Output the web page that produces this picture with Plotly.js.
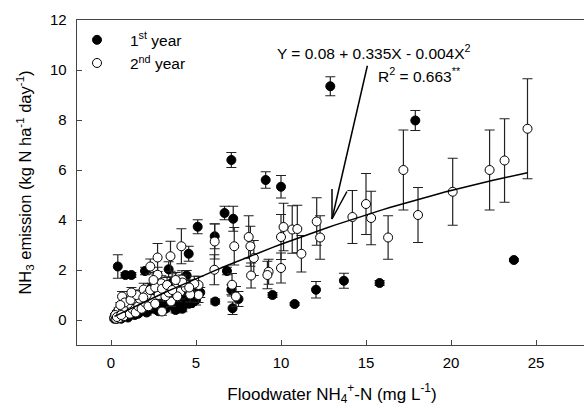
<!DOCTYPE html>
<html>
<head>
<meta charset="utf-8">
<script src="https://cdn.plot.ly/plotly-3.0.1.min.js"></script>
<style>html,body{margin:0;padding:0;overflow:hidden;background:#fff;}</style>
</head>
<body>
<div id="chart" style="width:590px;height:410px;"></div>
<script>
// ---- Data ----
// 1st year (filled circles): floodwater NH4+-N, NH3 emission, error
const year1X = [12.9, 17.9, 7.08, 9.1, 10.0, 6.68, 7.19, 5.1, 6.1, 4.57, 0.4, 0.85, 1.2, 2.0, 3.39, 4.45, 2.4, 6.82, 5.25, 6.13, 7.08, 7.5, 7.15, 9.5, 10.8, 4.76, 12.06, 13.7, 15.8, 23.7,
  0.2, 0.3, 0.45, 0.6, 0.7, 0.9, 1.0, 1.2, 1.4, 1.5, 1.7, 1.9, 2.1, 2.3, 2.5, 2.7, 2.9, 3.1, 3.3, 3.5, 3.7, 3.9, 4.1, 4.3, 4.5, 4.8, 3.0, 2.6, 1.8, 4.0, 3.6, 1.3, 0.8,
  0.25, 0.5, 0.65, 1.1, 1.6, 2.2, 2.8, 3.2, 3.8, 4.2, 4.6, 5.0, 2.4, 3.4, 4.4, 1.5, 0.35, 0.55];
const year1Y = [9.35, 7.98, 6.4, 5.6, 5.33, 4.28, 4.05, 3.73, 3.35, 2.65, 2.14, 1.8, 1.8, 1.96, 2.03, 1.78, 1.32, 1.96, 1.1, 0.74, 1.21, 0.84, 0.47, 1.0, 0.64, 0.68, 1.21, 1.57, 1.48, 2.4,
  0.05, 0.1, 0.15, 0.05, 0.2, 0.25, 0.1, 0.3, 0.2, 0.4, 0.35, 0.5, 0.3, 0.55, 0.45, 0.7, 0.5, 0.8, 0.6, 0.9, 0.55, 0.75, 0.6, 0.85, 1.0, 1.2, 1.05, 0.9, 0.75, 1.25, 1.5, 0.6, 0.4,
  0.2, 0.25, 0.12, 0.4, 0.25, 0.4, 0.35, 0.45, 0.4, 0.45, 0.65, 0.8, 0.65, 0.7, 0.7, 0.55, 0.05, 0.18];
const year1Err = [0.38, 0.4, 0.3, 0.33, 0.45, 0.27, 0.5, 0.28, 0.5, 0.3, 0.47, 0.1, 0.1, 0.15, 0.3, 0.2, 0.15, 0.15, 0.2, 0.1, 0.2, 0.3, 0.25, 0.1, 0.05, 0.1, 0.33, 0.3, 0.1, 0.05,
  0.05, 0.05, 0.08, 0.05, 0.1, 0.1, 0.05, 0.1, 0.1, 0.15, 0.1, 0.15, 0.1, 0.15, 0.12, 0.2, 0.15, 0.2, 0.15, 0.25, 0.15, 0.2, 0.15, 0.2, 0.25, 0.3, 0.25, 0.2, 0.2, 0.3, 0.35, 0.15, 0.1,
  0.05, 0.06, 0.05, 0.1, 0.08, 0.1, 0.1, 0.12, 0.12, 0.12, 0.15, 0.2, 0.15, 0.15, 0.15, 0.12, 0.04, 0.05];

// 2nd year (open circles)
const year2X = [24.5, 23.15, 22.27, 20.1, 18.06, 17.2, 16.3, 15.3, 15.0, 14.2, 12.3, 12.1, 11.2, 10.66, 10.96, 10.0, 10.15, 10.0, 9.27, 9.2, 8.2, 8.1, 8.4, 8.24, 7.25, 6.1, 6.08, 7.12, 7.35,
  4.14, 3.5, 2.74, 2.31, 2.74, 4.17, 2.96, 5.15, 5.15, 1.92, 3.78, 4.66, 4.08, 0.65, 1.33, 3.53, 3.0, 1.39, 0.94,
  0.2, 0.3, 0.4, 0.5, 0.6, 0.75, 0.9, 1.1, 1.25, 1.45, 1.6, 1.8, 2.0, 2.2, 2.4, 2.6, 2.8, 3.2, 3.4, 3.9, 4.4, 4.9, 2.1, 1.7, 1.0, 0.35,
  0.45, 0.7, 0.8, 1.15, 1.5, 1.9, 2.3, 2.6, 3.0, 3.3, 3.6, 4.2, 4.6, 3.8, 2.5, 1.2, 0.55, 0.25, 0.35, 0.6];
const year2Y = [7.65, 6.38, 6.0, 5.13, 4.2, 6.0, 3.3, 4.08, 4.64, 4.12, 3.3, 3.94, 2.65, 3.62, 3.64, 3.32, 3.72, 2.08, 1.93, 1.8, 2.95, 3.32, 2.48, 1.78, 2.95, 3.14, 2.01, 1.41, 0.94,
  2.95, 2.55, 2.5, 2.14, 1.81, 1.62, 1.47, 1.4, 1.0, 1.22, 1.28, 1.02, 1.14, 0.94, 0.94, 0.74, 0.34, 0.6, 0.54,
  0.1, 0.05, 0.2, 0.08, 0.3, 0.15, 0.35, 0.25, 0.45, 0.3, 0.55, 0.45, 0.7, 0.55, 0.85, 0.65, 1.0, 0.95, 1.1, 0.95, 1.3, 1.45, 1.0, 0.85, 0.65, 0.3,
  0.4, 0.45, 0.7, 0.8, 1.0, 0.9, 1.2, 1.3, 1.25, 1.4, 1.2, 1.5, 1.3, 1.6, 1.6, 1.1, 0.6, 0.2, 0.12, 0.2];
const year2Err = [2.0, 1.67, 1.6, 1.34, 1.1, 1.6, 0.87, 1.07, 1.22, 1.06, 0.87, 0.95, 0.73, 0.95, 0.95, 0.9, 0.95, 0.6, 0.5, 0.55, 0.8, 0.85, 0.7, 0.5, 0.75, 0.7, 0.6, 0.45, 0.4,
  0.7, 0.6, 0.56, 0.3, 0.3, 0.35, 0.3, 0.35, 0.3, 0.25, 0.3, 0.3, 0.3, 0.2, 0.2, 0.2, 0.15, 0.15, 0.15,
  0.05, 0.05, 0.08, 0.05, 0.1, 0.08, 0.1, 0.1, 0.12, 0.1, 0.15, 0.12, 0.15, 0.15, 0.2, 0.15, 0.2, 0.2, 0.25, 0.2, 0.3, 0.3, 0.2, 0.2, 0.15, 0.08,
  0.08, 0.1, 0.12, 0.15, 0.2, 0.2, 0.25, 0.25, 0.25, 0.3, 0.25, 0.3, 0.3, 0.3, 0.3, 0.2, 0.1, 0.05, 0.05, 0.05];

// Fitted curve, as printed on the chart: Y = 0.08 + 0.335X - 0.004X^2
const fitCoef = [0.08, 0.335, -0.004];
const fitRange = [0.2, 24.5];

// Axis ticks
const xTicks = [0, 5, 10, 15, 20, 25];
const yTicks = [0, 2, 4, 6, 8, 10, 12];

// ---- Build ----
const fitX = [], fitY = [];
for (let i = 0; i <= 60; i++) {
  const x = fitRange[0] + (fitRange[1] - fitRange[0]) * i / 60;
  fitX.push(x);
  fitY.push(fitCoef[0] + fitCoef[1] * x + fitCoef[2] * x * x);
}

const errStyle = (arr) => ({type: 'data', array: arr, visible: true, color: '#222', thickness: 1.2, width: 5});
const NB = '\u00A0\u00A0\u00A0';

const traces = [
  {x: year1X, y: year1Y, error_y: errStyle(year1Err), mode: 'markers', type: 'scatter',
   name: NB + '1<sup>st</sup> year',
   marker: {color: '#000', size: 9, line: {color: '#000', width: 1}}},
  {x: year2X, y: year2Y, error_y: errStyle(year2Err), mode: 'markers', type: 'scatter',
   name: NB + '2<sup>nd</sup> year',
   marker: {color: '#fff', size: 9, line: {color: '#000', width: 1}}},
  {x: fitX, y: fitY, mode: 'lines', type: 'scatter', showlegend: false,
   line: {color: '#000', width: 1.5}, hoverinfo: 'skip'}
];

const FONT = 'Liberation Sans, Arial, sans-serif';
const lineCol = '#444';
const layout = {
  width: 590, height: 410,
  margin: {l: 77, r: 3, t: 20, b: 65},
  paper_bgcolor: '#fff', plot_bgcolor: '#fff',
  font: {family: FONT, size: 14, color: '#000'},
  showlegend: true,
  legend: {x: 0, xanchor: 'left', y: 0.99, yanchor: 'top', bgcolor: 'rgba(0,0,0,0)',
           font: {family: FONT, size: 15.5, color: '#000'}, tracegroupgap: 0},
  xaxis: {
    range: [-2, 28], tickvals: xTicks, ticks: 'inside', ticklen: 5, tickcolor: lineCol, tickwidth: 1,
    showline: true, linecolor: lineCol, linewidth: 1.3, mirror: true, showgrid: false, zeroline: false,
    tickfont: {family: FONT, size: 15, color: '#000'}, ticklabelstandoff: 4,
    title: {text: 'Floodwater NH<sub>4</sub><sup>+</sup>-N (mg L<sup>-1</sup>)', font: {family: FONT, size: 17, color: '#000'}, standoff: 17}
  },
  yaxis: {
    range: [-1, 12], tickvals: yTicks, ticks: 'inside', ticklen: 5, tickcolor: lineCol, tickwidth: 1,
    showline: true, linecolor: lineCol, linewidth: 1.3, mirror: true, showgrid: false, zeroline: false,
    tickfont: {family: FONT, size: 15, color: '#000'}, ticklabelstandoff: 6,
    title: {text: 'NH<sub>3</sub> emission (kg N ha<sup>-1</sup> day<sup>-1</sup>)', font: {family: FONT, size: 16.5, color: '#000'}, standoff: 14}
  },
  annotations: [
    {x: 9.66, y: 10.73, xref: 'x', yref: 'y', xanchor: 'left', yanchor: 'middle', showarrow: false,
     text: 'Y = 0.08 + 0.335X - 0.004X<sup>2</sup>', font: {family: FONT, size: 15.5, color: '#000'}},
    {x: 15.6, y: 9.81, xref: 'x', yref: 'y', xanchor: 'left', yanchor: 'middle', showarrow: false,
     text: 'R<sup>2</sup> = 0.663<sup>**</sup>', font: {family: FONT, size: 15.5, color: '#000'}}
  ],
  shapes: [
    {type: 'line', xref: 'x', yref: 'y', x0: 15.08, y0: 10.17, x1: 13.0, y1: 4.04, line: {color: '#000', width: 1.5}},
    {type: 'line', xref: 'x', yref: 'y', x0: 13.0, y0: 4.04, x1: 13.0, y1: 5.24, line: {color: '#000', width: 1.5}},
    {type: 'line', xref: 'x', yref: 'y', x0: 13.0, y0: 4.04, x1: 13.88, y1: 5.14, line: {color: '#000', width: 1.5}}
  ]
};

Plotly.newPlot('chart', traces, layout, {staticPlot: true, displayModeBar: false});
</script>
</body>
</html>
